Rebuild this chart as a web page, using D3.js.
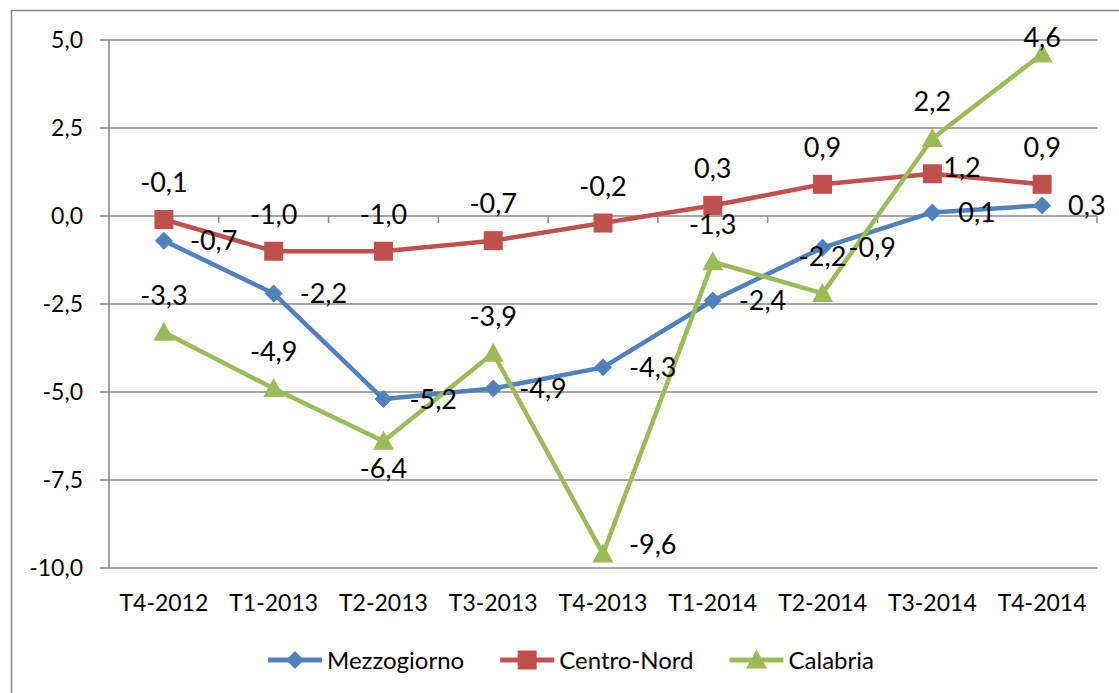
<!DOCTYPE html>
<html><head><meta charset="utf-8">
<script src="https://cdnjs.cloudflare.com/ajax/libs/d3/7.8.5/d3.min.js"></script>
<style>
html,body{margin:0;padding:0;background:#fff;}
svg{display:block;font-family:Lato,"Open Sans",sans-serif;}
</style></head><body>
<svg id="c" width="1119" height="693"></svg>
<script>
const categories = ["T4-2012","T1-2013","T2-2013","T3-2013","T4-2013","T1-2014","T2-2014","T3-2014","T4-2014"];
const mezzogiorno = [-0.7,-2.2,-5.2,-4.9,-4.3,-2.4,-0.9,0.1,0.3];
const centroNord  = [-0.1,-1.0,-1.0,-0.7,-0.2,0.3,0.9,1.2,0.9];
const calabria    = [-3.3,-4.9,-6.4,-3.9,-9.6,-1.3,-2.2,2.2,4.6];
const yTicks = [-10,-7.5,-5,-2.5,0,2.5,5];
const seriesNames = ["Mezzogiorno","Centro-Nord","Calabria"];

(function(){
// label placement per series (style config)
const placement = {
  "Mezzogiorno": categories.map(()=> "right"),
  "Centro-Nord": ["above","above","above","above","above","above","above","aboveRight","above"],
  "Calabria": ["above","above","below","above","rightUp","above","above","above","above"]
};

const series = [
  {name:seriesNames[0], values:mezzogiorno, color:"#4F81BD", marker:"diamond"},
  {name:seriesNames[1], values:centroNord,  color:"#C0504D", marker:"square"},
  {name:seriesNames[2], values:calabria,    color:"#9BBB59", marker:"triangle"}
];

const svg = d3.select("#c");
const pL=109, pR=1097, pT=40, pB=568;
const x = d3.scaleBand().domain(categories).range([pL,pR]).padding(0);
const cx = c => x(c)+x.bandwidth()/2;
const y = d3.scaleLinear().domain([-10,5]).range([pB,pT]);
const fmt = v => d3.format(".1f")(v).replace(".",",").replace("−","-");
const grid="#878787";
const axisFont=23, labelFont=27, legendFont=24;

// outer border
svg.append("rect").attr("x",11.5).attr("y",10.5).attr("width",1300).attr("height",900)
  .attr("fill","none").attr("stroke",grid).attr("stroke-width",1.5);

// gridlines
svg.append("g").selectAll("line").data(yTicks).join("line")
  .attr("x1",pL-9).attr("x2",pR).attr("y1",d=>y(d)).attr("y2",d=>y(d))
  .attr("stroke",grid).attr("stroke-width",1.5);
// y axis line
svg.append("line").attr("x1",pL).attr("x2",pL).attr("y1",pT).attr("y2",pB)
  .attr("stroke",grid).attr("stroke-width",1.5);
// y tick labels
svg.append("g").selectAll("text").data(yTicks).join("text")
  .attr("x",83).attr("y",d=>y(d)).attr("dy","0.36em").attr("text-anchor","end")
  .attr("font-size",axisFont).attr("fill","#000").text(d=>fmt(d));
// x ticks at boundaries on zero line
const bounds = categories.map(c=>x(c)).concat([pR]);
svg.append("g").selectAll("line").data(bounds.slice(1)).join("line")
  .attr("x1",d=>d).attr("x2",d=>d).attr("y1",y(0)).attr("y2",y(0)+7)
  .attr("stroke",grid).attr("stroke-width",1.5);
// x labels
svg.append("g").selectAll("text").data(categories).join("text")
  .attr("x",d=>cx(d)).attr("y",603).attr("dy","0.36em").attr("text-anchor","middle")
  .attr("font-size",axisFont).attr("fill","#000").text(d=>d);

function markerPath(type){
  if(type==="diamond") return "M0,-9L9,0L0,9L-9,0Z";
  if(type==="square") return "M-9.5,-9.5H9.5V9.5H-9.5Z";
  return "M0,-10.5L10.5,8.5L-10.5,8.5Z";
}
const line = d3.line().x((d,i)=>cx(categories[i])).y(d=>y(d));

series.forEach(s=>{
  const g = svg.append("g");
  g.append("path").attr("d",line(s.values)).attr("fill","none")
   .attr("stroke",s.color).attr("stroke-width",4.5).attr("stroke-linejoin","round");
  g.selectAll("path.m").data(s.values).join("path").attr("class","m")
   .attr("transform",(d,i)=>`translate(${cx(categories[i])},${y(d)})`)
   .attr("d",markerPath(s.marker)).attr("fill",s.color);
});
// data labels
series.forEach(s=>{
  s.values.forEach((v,i)=>{
    const px=cx(categories[i]), py=y(v), p=placement[s.name][i];
    let tx=px, ty=py, anchor="middle";
    if(p==="right"){tx=px+26; anchor="start";}
    else if(p==="above"){ty=Math.max(py-37,37);}
    else if(p==="below"){ty=py+27;}
    else if(p==="aboveRight"){tx=px+11; ty=py-6; anchor="start";}
    else if(p==="rightUp"){tx=px+26; ty=py-10; anchor="start";}
    svg.append("text").attr("x",tx).attr("y",ty).attr("dy","0.36em")
      .attr("text-anchor",anchor).attr("font-size",labelFont).attr("fill","#000").text(fmt(v));
  });
});

// legend
const lg = svg.append("g");
let lx = 268; const ly = 660;
series.forEach(s=>{
  lg.append("line").attr("x1",lx).attr("x2",lx+54).attr("y1",ly).attr("y2",ly)
    .attr("stroke",s.color).attr("stroke-width",5);
  lg.append("path").attr("transform",`translate(${lx+27},${ly})`).attr("d",markerPath(s.marker)).attr("fill",s.color);
  const t = lg.append("text").attr("x",lx+59).attr("y",ly).attr("dy","0.36em")
    .attr("font-size",legendFont).attr("fill","#000").text(s.name);
  lx = lx+59+t.node().getComputedTextLength()+36;
});
})();
</script>
</body></html>
